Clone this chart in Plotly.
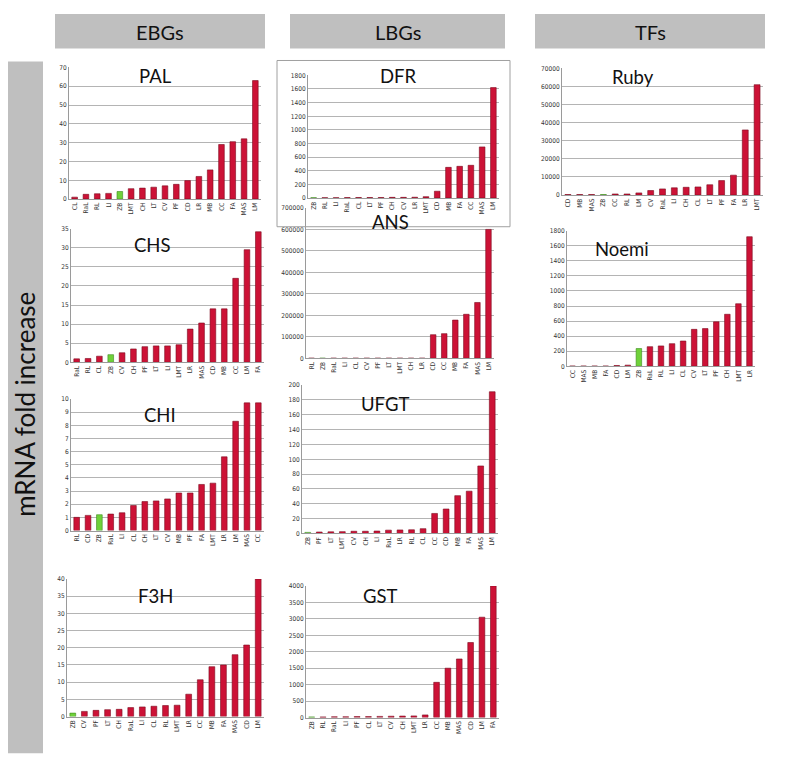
import plotly.graph_objects as go

W, H = 787, 765
OFF = 8  # page body margin offset (px) to compensate

# ---------------- data ----------------
PAL_cats = ["CL", "RaL", "RL", "LI", "ZB", "LMT", "CH", "LT", "CV", "PF", "CD", "LR", "MB", "CC", "FA", "MAS", "LM"]
PAL_vals = [1.0, 2.5, 2.8, 3.0, 4.0, 5.5, 5.8, 6.3, 7.0, 7.8, 9.8, 12.0, 15.5, 29.0, 30.5, 32.0, 63.0]

DFR_cats = ["ZB", "RL", "LI", "RaL", "CL", "LT", "PF", "CH", "CV", "LR", "LMT", "CD", "MB", "FA", "CC", "MAS", "LM"]
DFR_vals = [5, 5, 5, 6, 8, 8, 8, 10, 10, 12, 20, 100, 450, 465, 480, 750, 1620]

Ruby_cats = ["CD", "MB", "MAS", "ZB", "CC", "RL", "LM", "CV", "RaL", "LI", "CH", "CL", "LT", "PF", "FA", "LR", "LMT"]
Ruby_vals = [300, 300, 300, 300, 600, 600, 1200, 2500, 3400, 4000, 4300, 4500, 5700, 8000, 11000, 36000, 61000]

CHS_cats = ["RaL", "RL", "CL", "ZB", "CV", "CH", "PF", "LT", "LI", "LMT", "LR", "MAS", "CD", "MB", "CC", "LM", "FA"]
CHS_vals = [0.9, 1.0, 1.6, 2.0, 2.5, 3.5, 4.1, 4.3, 4.3, 4.6, 8.7, 10.3, 14.0, 14.0, 22.0, 29.5, 34.2]

ANS_cats = ["RL", "ZB", "RaL", "LI", "CL", "CV", "PF", "LT", "LMT", "CH", "LR", "CD", "CC", "MB", "FA", "MAS", "LM"]
ANS_vals = [1000, 1000, 1000, 1000, 1000, 1000, 1000, 1000, 1000, 1000, 1000, 110000, 115000, 178000, 205000, 260000, 600000]

Noemi_cats = ["CC", "MAS", "MB", "FA", "CD", "LM", "ZB", "RaL", "RL", "LI", "CL", "CV", "LT", "PF", "CH", "LMT", "LR"]
Noemi_vals = [3, 3, 3, 3, 10, 15, 235, 260, 270, 300, 335, 490, 500, 590, 690, 830, 1720]

CHI_cats = ["RL", "CD", "ZB", "RaL", "LI", "CL", "CH", "LT", "CV", "MB", "PF", "FA", "LMT", "LR", "LM", "MAS", "CC"]
CHI_vals = [1.0, 1.15, 1.2, 1.25, 1.35, 1.9, 2.2, 2.25, 2.4, 2.85, 2.85, 3.5, 3.6, 5.6, 8.3, 9.7, 9.7]

UFGT_cats = ["ZB", "PF", "LT", "LMT", "CV", "CH", "LI", "RaL", "LR", "RL", "CL", "CC", "CD", "MB", "FA", "MAS", "LM"]
UFGT_vals = [1.5, 2.0, 2.2, 2.5, 3.0, 3.0, 3.3, 4.5, 4.8, 5.0, 6.5, 27.0, 33.0, 51.0, 57.0, 91.0, 191.0]

F3H_cats = ["ZB", "CV", "PF", "LT", "CH", "RaL", "LI", "CL", "RL", "LMT", "LR", "CC", "MB", "FA", "MAS", "CD", "LM"]
F3H_vals = [1.0, 1.5, 1.8, 2.0, 2.1, 2.6, 2.8, 3.0, 3.2, 3.3, 6.5, 10.7, 14.5, 15.0, 18.0, 20.8, 40.0]

GST_cats = ["ZB", "RL", "RaL", "LI", "PF", "CL", "LT", "CV", "CH", "LMT", "LR", "CC", "MB", "MAS", "CD", "LM", "FA"]
GST_vals = [20, 20, 25, 25, 30, 30, 35, 40, 45, 50, 80, 1070, 1500, 1780, 2280, 3050, 4000]

group_labels = ["EBGs", "LBGs", "TFs"]
y_title = "mRNA fold increase"


def fx(p):
    return (p - OFF) / W


def fy(p):
    return 1 - (p - OFF) / H


# ---------------- layout (pixel geometry on the page) ----------------
panels = [
    dict(name="PAL", cats=PAL_cats, vals=PAL_vals, ymax=70, dtick=10, xpx=(69, 261), ypx=(64, 197), t=(155, 73)),
    dict(name="DFR", cats=DFR_cats, vals=DFR_vals, ymax=1800, dtick=200, xpx=(308, 499), ypx=(72, 196), t=(398, 73)),
    dict(name="Ruby", cats=Ruby_cats, vals=Ruby_vals, ymax=70000, dtick=10000, xpx=(562, 763), ypx=(65, 193), t=(633, 74)),
    dict(name="CHS", cats=CHS_cats, vals=CHS_vals, ymax=35, dtick=5, xpx=(71, 264), ypx=(227, 362), t=(152, 243)),
    dict(name="ANS", cats=ANS_cats, vals=ANS_vals, ymax=700000, dtick=100000, xpx=(306, 494), ypx=(206, 358), t=(390, 220)),
    dict(name="Noemi", cats=Noemi_cats, vals=Noemi_vals, ymax=1800, dtick=200, xpx=(567, 755), ypx=(229, 366), t=(622, 247)),
    dict(name="CHI", cats=CHI_cats, vals=CHI_vals, ymax=10, dtick=1, xpx=(71, 264), ypx=(399, 532), t=(160, 415)),
    dict(name="UFGT", cats=UFGT_cats, vals=UFGT_vals, ymax=200, dtick=20, xpx=(302, 498), ypx=(385, 535), t=(385, 404)),
    dict(name="F3H", cats=F3H_cats, vals=F3H_vals, ymax=40, dtick=5, xpx=(67, 264), ypx=(581, 720), t=(155, 598)),
    dict(name="GST", cats=GST_cats, vals=GST_vals, ymax=4000, dtick=500, xpx=(306, 499), ypx=(588, 721), t=(380, 598)),
]

RED = "#cc1236"
GREEN = "#6fd13a"
TICKFONT = dict(family="Liberation Sans Narrow, DejaVu Sans Condensed, Liberation Sans, sans-serif", size=6.5, color="#333333")
TITLEFONT = "Lato, Open Sans, sans-serif"

fig = go.Figure()
layout = {}
annotations = []
shapes = []

for i, p in enumerate(panels, 1):
    sfx = "" if i == 1 else str(i)
    xa, ya = "x" + sfx, "y" + sfx
    colors = [GREEN if c == "ZB" else RED for c in p["cats"]]
    lines = ["#3c8a1c" if c == "ZB" else "#7c0a1e" for c in p["cats"]]
    fig.add_trace(go.Bar(
        x=p["cats"], y=p["vals"], xaxis=xa, yaxis=ya,
        marker=dict(color=colors, line=dict(color=lines, width=0.6)),
        width=0.5, hoverinfo="x+y", showlegend=False,
    ))
    x0, x1 = p["xpx"]
    y0, y1 = p["ypx"]
    layout["xaxis" + sfx] = dict(
        domain=[fx(x0), fx(x1)], anchor=ya, type="category",
        tickangle=-90, tickfont=TICKFONT, showgrid=False,
        showline=True, linecolor="#9a9a9a", linewidth=1, ticks="",
        fixedrange=True,
    )
    layout["yaxis" + sfx] = dict(
        domain=[fy(y1), fy(y0)], anchor=xa,
        range=[0, p["ymax"]], dtick=p["dtick"], tick0=0, tickformat="d",
        showgrid=True, gridcolor="#b4b4b4", gridwidth=1,
        showline=True, linecolor="#9a9a9a", linewidth=1,
        zeroline=False, ticks="", tickfont=TICKFONT, fixedrange=True,
    )
    tx, ty = p["t"]
    annotations.append(dict(
        text=p["name"], x=fx(tx), y=fy(ty), xref="paper", yref="paper",
        showarrow=False, font=dict(family=TITLEFONT, size=18.5, color="#111111"),
        xanchor="center", yanchor="middle",
    ))

# header boxes
headers_px = [(55, 265), (290, 505), (535, 765)]
for lab, (hx0, hx1) in zip(group_labels, headers_px):
    shapes.append(dict(type="rect", xref="paper", yref="paper",
                       x0=fx(hx0), x1=fx(hx1), y0=fy(45), y1=fy(10),
                       fillcolor="#bfbfbf", line=dict(width=0), layer="below"))
    annotations.append(dict(text=lab, x=fx((hx0 + hx1) / 2), y=fy(28),
                            xref="paper", yref="paper", showarrow=False,
                            xanchor="center", yanchor="middle",
                            font=dict(family=TITLEFONT, size=20, color="#111111")))

# left y-title box
shapes.append(dict(type="rect", xref="paper", yref="paper",
                   x0=fx(7), x1=fx(43), y0=fy(757), y1=fy(58),
                   fillcolor="#bfbfbf", line=dict(width=0), layer="below"))
annotations.append(dict(text=y_title, x=fx(25), y=fy(405), xref="paper", yref="paper",
                        showarrow=False, textangle=-90, xanchor="center", yanchor="middle",
                        font=dict(family=TITLEFONT, size=26, color="#111111")))

# frame around DFR panel
shapes.append(dict(type="rect", xref="paper", yref="paper",
                   x0=fx(277), x1=fx(510), y0=fy(225), y1=fy(57),
                   fillcolor="rgba(0,0,0,0)", line=dict(color="#a0a0a0", width=1)))

fig.update_layout(
    width=W, height=H, autosize=False,
    margin=dict(l=0, r=0, t=0, b=0),
    paper_bgcolor="white", plot_bgcolor="white",
    showlegend=False, bargap=0.5,
    annotations=annotations, shapes=shapes,
    **layout,
)

fig.write_html("out.html")
